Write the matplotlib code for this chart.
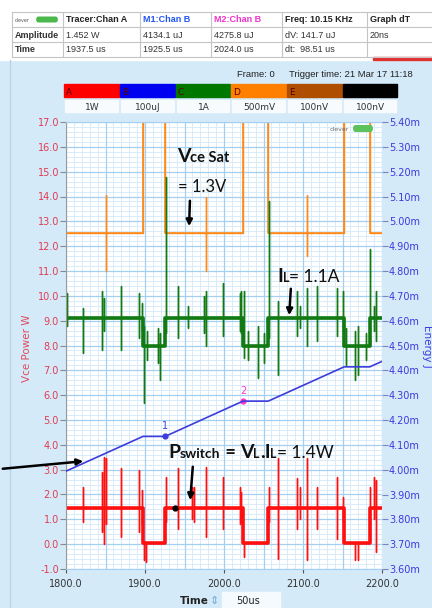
import numpy as np
import matplotlib.pyplot as plt
from matplotlib.ticker import MultipleLocator
from matplotlib.patches import Rectangle, FancyBboxPatch, FancyArrowPatch

W, H = 432, 608

# ---- data ----
# switching edges (us) and switch state in between (1 = on)
t_edges = [1800.0, 1897.5, 1925.5, 2024.0, 2056.0, 2152.0, 2184.5, 2200.0]
sw_state = [1, 0, 1, 0, 1, 0, 1]

vce_levels = {1: 12.55, 0: 18.5}   # off level is above the screen
il_levels = {1: 9.1, 0: 8.0}
p_levels = {1: 1.45, 0: 0.05}

# spikes: (time us, top, bottom)
vce_spikes = [(1850.0, 14.05, 11.0), (1977.0, 14.0, 11.0), (2104.5, 14.05, 11.6)]
il_spikes = [
    (1801, 10.1, 8.8), (1821, 9.5, 7.7), (1845, 10.2, 7.8), (1847.5, 9.9, 8.6),
    (1870, 10.4, 7.8), (1893, 10.1, 8.3), (1896, 9.7, 8.6),
    (1899, 8.8, 5.7), (1903, 8.6, 7.4), (1916, 8.7, 7.3), (1919, 8.5, 6.6),
    (1926, 14.8, 8.5), (1942, 10.4, 8.3), (1955, 9.6, 8.7), (1975, 10.0, 8.5),
    (1977, 10.2, 8.0), (1999, 10.5, 8.4), (2020, 10.1, 8.6), (2022, 10.2, 8.5),
    (2025, 10.2, 7.5), (2030, 8.6, 7.4), (2043, 8.8, 6.7), (2050, 8.5, 7.3),
    (2056.5, 13.8, 8.3), (2068, 9.8, 6.8), (2092, 10.2, 8.4), (2096, 9.6, 8.7),
    (2105, 10.3, 8.0), (2118, 10.4, 8.2), (2143, 10.3, 8.4), (2151, 10.2, 8.6),
    (2155, 8.7, 7.2), (2166, 8.6, 6.6), (2170, 8.8, 6.8), (2180, 8.5, 7.4),
    (2185, 11.9, 8.5), (2190, 9.6, 8.6), (2193, 10.2, 8.2),
]
p_spikes = [
    (1821, 2.3, 0.9), (1845, 2.9, 0.5), (1847.5, 3.5, 0.0), (1850, 3.45, 0.8),
    (1870, 3.05, 0.3), (1893, 3.0, 0.5), (1896, 2.2, 0.8),
    (1899, 0.05, -0.65), (1901.5, 0.05, -0.7),
    (1926, 2.7, 0.9), (1942, 3.05, 0.6), (1960, 2.3, 1.0), (1962, 2.3, 0.9),
    (1977, 3.1, 0.3), (1999, 2.7, 0.6), (2020, 2.3, 0.8), (2022, 2.1, 0.9),
    (2025, 0.05, -0.5),
    (2056.5, 2.3, 0.9), (2068, 3.45, -0.6), (2092, 2.65, 0.6), (2096, 2.3, 1.0),
    (2105, 3.45, -0.65), (2118, 2.3, 0.6), (2143, 2.7, 0.2), (2150, 1.9, 0.9),
    (2166, 0.05, -0.65), (2170, 0.05, -0.65),
    (2185, 2.3, 0.8), (2190, 2.7, 1.0), (2193, 2.6, -0.3),
]

# integrated energy (mJ) on the right axis
energy_t = [1800.0, 1897.5, 1925.5, 2024.0, 2056.0, 2152.0, 2184.5, 2200.0]
energy_mj = [3.994, 4.134, 4.134, 4.276, 4.276, 4.414, 4.414, 4.436]

m1 = (1925.5, 4.1341)
m2 = (2024.0, 4.2758)
tracer = (1937.5, 1.452)

x_ticks = [1800, 1900, 2000, 2100, 2200]
left_ticks = list(range(-1, 18))
right_ticks = [3.6, 3.7, 3.8, 3.9, 4.0, 4.1, 4.2, 4.3, 4.4, 4.5, 4.6, 4.7, 4.8,
               4.9, 5.0, 5.1, 5.2, 5.3, 5.4]

tbl_head = ["", "Tracer:Chan A", "M1:Chan B", "M2:Chan B", "Freq: 10.15 KHz", "Graph dT"]
tbl_amp = ["Amplitude", "1.452 W", "4134.1 uJ", "4275.8 uJ", "dV: 141.7 uJ", "20ns"]
tbl_time = ["Time", "1937.5 us", "1925.5 us", "2024.0 us", "dt:  98.51 us", ""]

chan_names = ["A", "B", "C", "D", "E", ""]
chan_colors = ["#ff0000", "#0000f0", "#007800", "#ff8000", "#b04e00", "#000000"]
chan_scales = ["1W", "100uJ", "1A", "500mV", "100nV", "100nV"]


def P(x, y):
    # pixel position (y down) -> figure fraction
    return (x / W, 1 - y / H)


def build(levels, spikes):
    xs, ys = [], []
    for i, st in enumerate(sw_state):
        lv = levels[st]
        t0, t1 = t_edges[i], t_edges[i + 1]
        xs.append(t0); ys.append(lv)
        for ts, hi, lo in spikes:
            if t0 <= ts < t1:
                xs += [ts, ts, ts, ts]
                ys += [lv, hi, lo, lv]
        xs.append(t1); ys.append(lv)
    return xs, ys


fig = plt.figure(figsize=(W / 100, H / 100), dpi=100)
fig.patch.set_facecolor("#d5eaf9")

# white header strip + table
fig.add_artist(Rectangle(P(0, 60), 1, 60 / H, transform=fig.transFigure,
                         color="white", zorder=0))
col_x = [12, 63, 140, 211, 282, 367, 440]
row_y = [12, 27, 42, 57]
for cx in col_x:
    fig.add_artist(plt.Line2D([cx / W, cx / W], [1 - 12 / H, 1 - 57 / H],
                              transform=fig.transFigure, color="#c4c4c4", lw=0.8))
for ry in row_y:
    fig.add_artist(plt.Line2D([12 / W, 1], [1 - ry / H, 1 - ry / H],
                              transform=fig.transFigure, color="#c4c4c4", lw=0.8))
head_colors = ["#222222", "#222222", "#2255ee", "#ee33cc", "#222222", "#222222"]
for j in range(6):
    fig.text(*P(col_x[j] + 3, 22), tbl_head[j], fontsize=6.5, fontweight="bold",
             family="Liberation Sans", color=head_colors[j])
    fig.text(*P(col_x[j] + 3, 37.5), tbl_amp[j], fontsize=6.5,
             fontweight="bold" if j == 0 else "normal",
             family="Liberation Sans", color="#333333")
    fig.text(*P(col_x[j] + 3, 52.5), tbl_time[j], fontsize=6.5,
             fontweight="bold" if j == 0 else "normal",
             family="Liberation Sans", color="#333333")
# small logo in the table corner
fig.text(*P(15, 21.5), "clever", fontsize=3.5, color="#555555")
fig.add_artist(FancyBboxPatch(P(36, 22.5), 22 / W, 6 / H, transform=fig.transFigure,
                              boxstyle="round,pad=0,rounding_size=0.006",
                              color="#4cb84c", lw=0))
fig.add_artist(Rectangle(P(373, 60), 59 / W, 3 / H, transform=fig.transFigure,
                         color="#e03030"))
fig.add_artist(plt.Line2D([10 / W, 10 / W], [0, 1 - 60 / H], transform=fig.transFigure,
                          color="#b8d4ec", lw=1))

fig.text(*P(237, 77), "Frame: 0", fontsize=6.8, family="Liberation Sans", color="#222222")
fig.text(*P(289, 77), "Trigger time: 21 Mar 17 11:18", fontsize=6.8,
         family="Liberation Sans", color="#222222")

# channel colour bar
bx = [64, 120, 176, 231, 287, 343, 398]
for k in range(6):
    fig.add_artist(Rectangle(P(bx[k], 97), (bx[k + 1] - bx[k] - 1) / W, 13 / H,
                             transform=fig.transFigure, color=chan_colors[k]))
    fig.text(*P(bx[k] + 2, 95), chan_names[k], fontsize=6.5, color="#5a0000")
    fig.add_artist(Rectangle(P(bx[k] + 1, 112), (bx[k + 1] - bx[k] - 3) / W, 12 / H,
                             transform=fig.transFigure, color="#f7fbfe"))
    fig.text(*P((bx[k] + bx[k + 1]) / 2, 109.5), chan_scales[k], fontsize=6.5,
             ha="center", color="#333333")

# ---- main plot ----
ax = fig.add_axes([66 / W, 1 - 569 / H, (382 - 66) / W, (569 - 122) / H])
ax.set_facecolor("white")
ax.set_xlim(1800, 2200)
ax.set_ylim(-1, 17)
ax.set_axisbelow(True)
ax.xaxis.set_minor_locator(MultipleLocator(10))
ax.yaxis.set_minor_locator(MultipleLocator(0.2))
ax.grid(which="minor", color="#d9ecfa", lw=0.7)
for xv in np.arange(1800, 2201, 50):
    ax.axvline(xv, color="#a3d0f0", lw=0.9, zorder=0.8)
for yv in left_ticks:
    ax.axhline(yv, color="#a3d0f0", lw=0.9, zorder=0.8)

# orange Vce
xo, yo = build(vce_levels, [])
ax.plot(xo, yo, color="#ff8a1c", lw=1.2, zorder=2)
xo, yo = build(vce_levels, vce_spikes)
ax.plot(xo, yo, color="#ff8a1c", lw=1.0, zorder=2)
# green inductor current
xg, yg = build(il_levels, [])
ax.plot(xg, yg, color="#127a12", lw=2.6, zorder=2.1)
xg, yg = build(il_levels, il_spikes)
ax.plot(xg, yg, color="#127a12", lw=1.0, zorder=2.1)
# red switch power
xr, yr = build(p_levels, [])
ax.plot(xr, yr, color="#ff1010", lw=2.6, zorder=2.2)
xr, yr = build(p_levels, p_spikes)
ax.plot(xr, yr, color="#ff1010", lw=1.0, zorder=2.2)
ax.plot([tracer[0]], [tracer[1]], "o", color="black", ms=3.5, zorder=3)

ax.set_xticks(x_ticks)
ax.set_xticklabels([f"{v:.1f}" for v in x_ticks])
ax.set_yticks(left_ticks)
ax.set_yticklabels([f"{v:.1f}" for v in left_ticks])
ax.tick_params(axis="x", length=3, color="#555555", labelsize=7, labelcolor="#333333", pad=4)
ax.tick_params(axis="y", length=4, color="#8a8a8a", labelsize=7, labelcolor="#e03c52", pad=1)
ax.tick_params(which="minor", length=0)
ax.spines["left"].set_color("#9a9a9a")
for s in ["top", "bottom"]:
    ax.spines[s].set_color("#a3d0f0")
ax.spines["right"].set_visible(False)

ax2 = ax.twinx()
ax2.set_ylim(3.6, 5.4)
ax2.plot(energy_t, energy_mj, color="#3c3cdc", lw=1.2, zorder=3)
ax2.plot([m1[0]], [m1[1]], "o", color="#3c3cdc", ms=3.5)
ax2.annotate("1", m1, xytext=(0, 5), textcoords="offset points", ha="center",
             fontsize=7, color="#3c3cdc")
ax2.plot([m2[0]], [m2[1]], "o", color="#ff33cc", ms=3.5)
ax2.annotate("2", m2, xytext=(0, 5), textcoords="offset points", ha="center",
             fontsize=7, color="#ff33cc")
ax2.set_yticks(right_ticks)
ax2.set_yticklabels([f"{v:.2f}m" for v in right_ticks])
ax2.tick_params(axis="y", length=4, color="#8080c0", labelsize=7, labelcolor="#3a3adf", pad=1)
for s in ax2.spines.values():
    s.set_visible(False)

fig.text(*P(27, 348), "Vce Power W", rotation=90, fontsize=7.5, color="#e04a5a",
         ha="center", va="center")
fig.text(*P(427, 346), "Energy J", rotation=270, fontsize=7.5, color="#3a3adf",
         ha="center", va="center")

# clever scope logo inside the plot
fig.text(*P(330, 131), "clever", fontsize=4.5, color="#666666", zorder=5)
fig.add_artist(FancyBboxPatch(P(353, 132), 20 / W, 7 / H, transform=fig.transFigure,
                              boxstyle="round,pad=0,rounding_size=0.006",
                              color="#5cc25c", lw=0, zorder=5))

# time base controls
fig.text(*P(180, 604), "Time", fontsize=7.5, fontweight="bold", color="#222222")
fig.text(*P(214, 604), "\u21d5", fontsize=8, color="#6aa8d8", ha="center")
fig.add_artist(Rectangle(P(222, 608), 58 / W, 16 / H, transform=fig.transFigure,
                         color="#f5fafe"))
fig.text(*P(236, 604), "50us", fontsize=7, color="#222222")


# ---- annotations ----
def rich(x, y, parts):
    r = fig.canvas.get_renderer()
    for s, size, weight in parts:
        t = fig.text(*P(x, y), s, fontsize=size, fontweight=weight, family="Lato",
                     va="baseline", ha="left", color="#111111", zorder=6)
        bb = t.get_window_extent(renderer=r)
        x = bb.x1


def arrow(x0, y0, x1, y1):
    fig.add_artist(FancyArrowPatch(P(x0, y0), P(x1, y1), transform=fig.transFigure,
                                   arrowstyle="-|>", mutation_scale=9, lw=1.8,
                                   color="black", zorder=6))


rich(177, 162, [("V", 14, "bold"), ("ce Sat", 10.5, "bold")])
rich(178, 192, [("= 1.3V", 12, "normal")])
arrow(190, 198, 189, 229)

rich(277, 282, [("I", 14, "bold"), ("L", 9, "bold"), ("= 1.1A", 12.5, "normal")])
arrow(291, 286, 289, 318)

rich(168, 458, [("P", 14, "bold"), ("switch", 10, "bold"), (" = ", 13, "bold"),
                ("V", 14, "bold"), ("L", 9, "bold"), (".I", 14, "bold"),
                ("L", 9, "bold"), ("= 1.4W", 12.5, "normal")])
arrow(193, 464, 190, 503)
arrow(0, 469, 86, 461)

fig.savefig("out.png", dpi=100, facecolor=fig.get_facecolor())
